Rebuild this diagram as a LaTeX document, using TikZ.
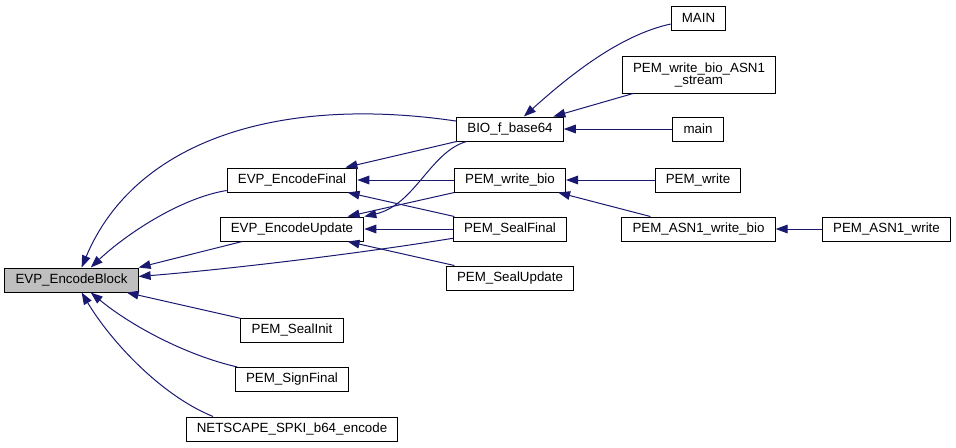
\documentclass[tikz,border=0pt]{standalone}
\usepackage{fontspec}
\setmainfont{Liberation Sans}
\usetikzlibrary{arrows.meta}

\definecolor{callblue}{HTML}{191970}
\definecolor{rootgray}{HTML}{BFBFBF}

\begin{document}
\begin{tikzpicture}[x=0.75pt, y=-0.75pt,
    >={Triangle[length=9pt,width=6.5pt]},
    fnbox/.style={draw, line width=0.75pt, inner xsep=8pt, inner ysep=0pt,
        minimum height=18pt, align=center,
        font=\fontsize{10pt}{11pt}\selectfont},
    rootbox/.style={fnbox, fill=rootgray},
    twoline/.style={fnbox, minimum height=27.75pt,
        font=\fontsize{10pt}{9pt}\selectfont},
    call/.style={->, color=callblue, line width=0.75pt}]

    \useasboundingbox (0,0) rectangle (956,447);

    % Function boxes
    \node[rootbox] (block) at (71.5,280) {EVP\_EncodeBlock};

    \node[fnbox] (final)     at (292,180)   {EVP\_EncodeFinal};
    \node[fnbox] (update)    at (292,229)   {EVP\_EncodeUpdate};
    \node[fnbox] (sealinit)  at (292,330)   {PEM\_SealInit};
    \node[fnbox] (signfinal) at (292,379.5) {PEM\_SignFinal};
    \node[fnbox] (netscape)  at (292,429)   {NETSCAPE\_SPKI\_b64\_encode};

    \node[fnbox] (bio)        at (510,129) {BIO\_f\_base64};
    \node[fnbox] (writebio)   at (510,180) {PEM\_write\_bio};
    \node[fnbox] (sealfinal)  at (510,229) {PEM\_SealFinal};
    \node[fnbox] (sealupdate) at (510,278) {PEM\_SealUpdate};

    \node[fnbox] (mainup)       at (698.5,18)   {MAIN};
    \node[twoline] (asnstream)  at (699,74.5)   {PEM\_write\_bio\_ASN1\\\_stream};
    \node[fnbox] (mainlow)      at (698,129)    {main};
    \node[fnbox] (pemwrite)     at (698,180)    {PEM\_write};
    \node[fnbox] (asnwritebio)  at (698.5,229)  {PEM\_ASN1\_write\_bio};
    \node[fnbox] (asnwrite)     at (886.5,229)  {PEM\_ASN1\_write};

    % Callers of EVP_EncodeBlock
    \draw[call] (bio) .. controls (280,95) and (135,140) .. (block.51);
    \draw[call] (final) .. controls (180,198) and (125,235) .. (block.33);
    \draw[call] (update) -- (block.north east);
    \draw[call] (sealfinal) .. controls (350,255) and (220,270) .. (block.3);
    \draw[call] (sealinit) -- (block);
    \draw[call] (signfinal) .. controls (185,355) and (130,325) .. (block.-33);
    \draw[call] (netscape.171) .. controls (160,395) and (110,340) .. (block.-51);

    % Callers of EVP_EncodeFinal
    \draw[call] (bio) -- (final);
    \draw[call] (writebio) -- (final);
    \draw[call] (sealfinal) -- (final);

    % Callers of EVP_EncodeUpdate
    \draw[call] (bio) .. controls (430,152) and (415,205) .. (update.north east);
    \draw[call] (writebio) -- (update);
    \draw[call] (sealfinal) -- (update);
    \draw[call] (sealupdate) -- (update);

    % Callers of BIO_f_base64
    \draw[call] (mainup) .. controls (620,35) and (570,75) .. (bio);
    \draw[call] (asnstream) -- (bio);
    \draw[call] (mainlow) -- (bio);

    % Callers of PEM_write_bio
    \draw[call] (pemwrite) -- (writebio);
    \draw[call] (asnwritebio) -- (writebio);
    \draw[call] (asnwrite) -- (asnwritebio);

\end{tikzpicture}
\end{document}
